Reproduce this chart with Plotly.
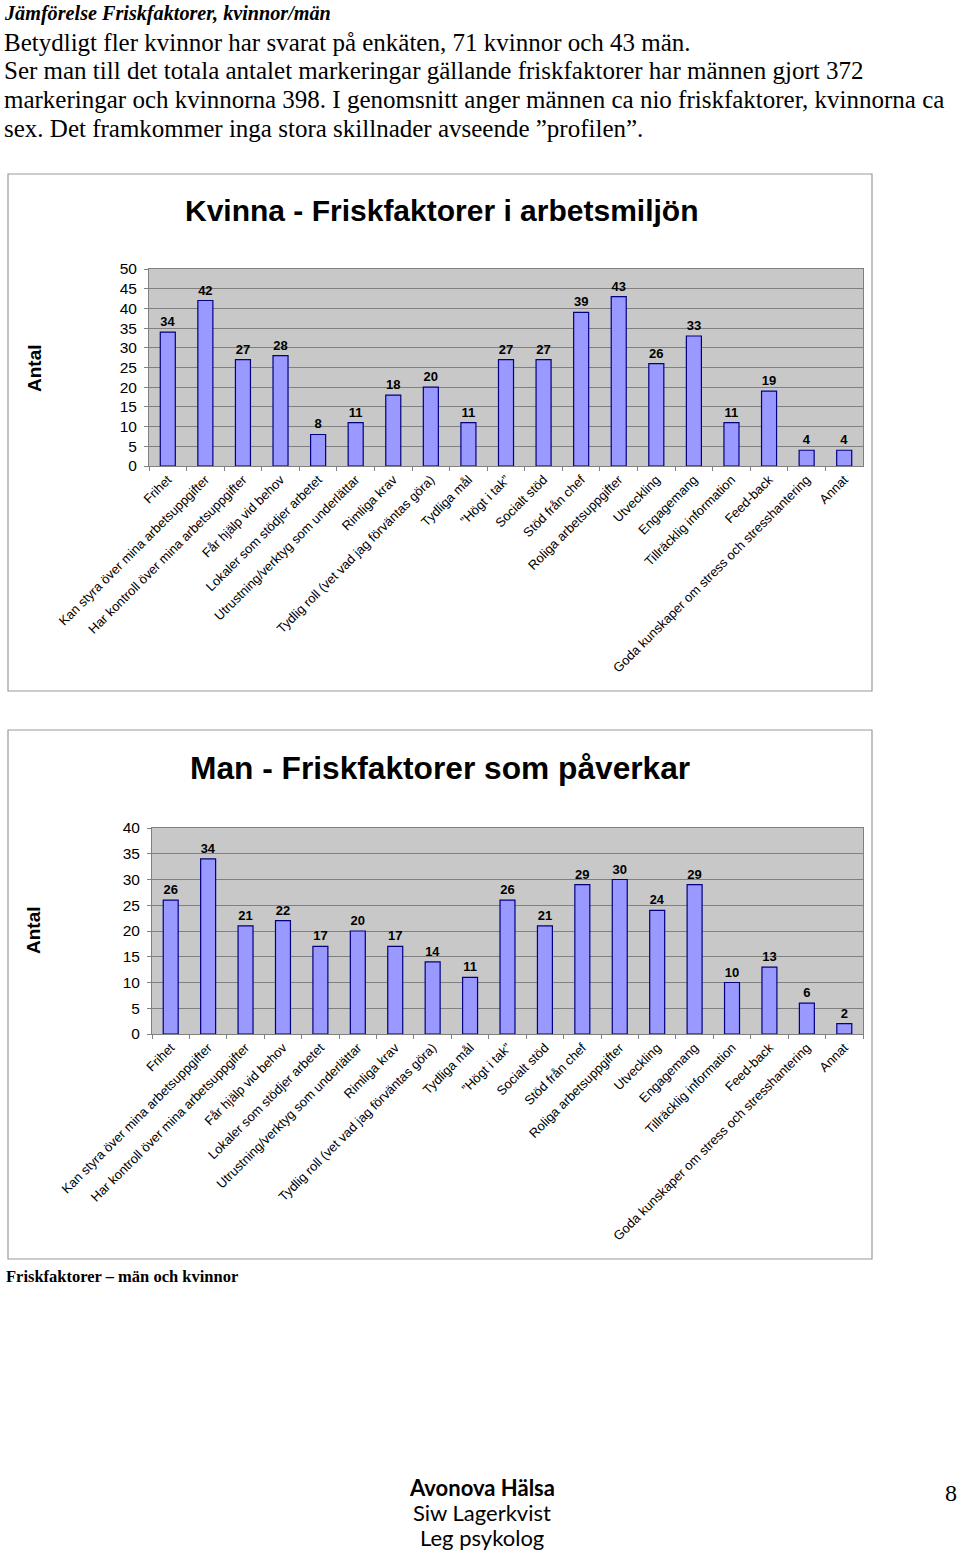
import plotly.graph_objects as go

categories = [
    "Frihet",
    "Kan styra över mina arbetsuppgifter",
    "Har kontroll över mina arbetsuppgifter",
    "Får hjälp vid behov",
    "Lokaler som stödjer arbetet",
    "Utrustning/verktyg som underlättar",
    "Rimliga krav",
    "Tydlig roll (vet vad jag förväntas göra)",
    "Tydliga mål",
    "\u201dHögt i tak\u201d",
    "Socialt stöd",
    "Stöd från chef",
    "Roliga arbetsuppgifter",
    "Utveckling",
    "Engagemang",
    "Tillräcklig information",
    "Feed-back",
    "Goda kunskaper om stress och stresshantering",
    "Annat",
]
kvinna_values = [34, 42, 27, 28, 8, 11, 18, 20, 11, 27, 27, 39, 43, 26, 33, 11, 19, 4, 4]
man_values = [26, 34, 21, 22, 17, 20, 17, 14, 11, 26, 21, 29, 30, 24, 29, 10, 13, 6, 2]

W, H = 960, 1551


def px(x):
    return x / W


def py(y):
    return 1 - y / H


BAR_FILL = "#9999FF"
BAR_LINE = "#000080"

fig = go.Figure()

for vals, xa, ya in [(kvinna_values, "x", "y"), (man_values, "x2", "y2")]:
    fig.add_trace(go.Bar(
        x=categories, y=vals, xaxis=xa, yaxis=ya,
        marker=dict(color=BAR_FILL, line=dict(color=BAR_LINE, width=1.2)),
        width=0.4, text=vals, textposition="outside", cliponaxis=False,
        textfont=dict(family="Liberation Sans, Arial", size=13, color="black"),
        texttemplate="<b>%{text}</b>", showlegend=False,
    ))

xcommon = dict(
    type="category", tickangle=-45, ticks="outside", tickson="boundaries",
    ticklen=4, tickcolor="#808080", showline=True, linecolor="#808080",
    tickfont=dict(family="Liberation Sans, Arial", size=13, color="black"),
    showgrid=False, mirror=True, fixedrange=True, automargin=False,
)
ycommon = dict(
    dtick=5, showgrid=True, gridcolor="#808080", gridwidth=1,
    ticks="outside", ticklen=4, tickcolor="#808080", showline=True,
    linecolor="#808080", mirror=True, zeroline=False, automargin=False,
    ticklabelstandoff=4,
    tickfont=dict(family="Liberation Sans, Arial", size=15.5, color="black"),
)

fig.update_layout(
    width=W, height=H,
    margin=dict(l=0, r=0, t=0, b=0, autoexpand=False),
    paper_bgcolor="white",
    plot_bgcolor="#C8C8C8",
    bargap=0.6,
    xaxis=dict(domain=[px(149), px(863)], anchor="y", **xcommon),
    yaxis=dict(domain=[py(466), py(269)], anchor="x", range=[0, 50], **ycommon),
    xaxis2=dict(domain=[px(152), px(863)], anchor="y2", **xcommon),
    yaxis2=dict(domain=[py(1034), py(828)], anchor="x2", range=[0, 40], **ycommon),
)

shapes = []
for (x0, y0, x1, y1) in [(8, 174, 872, 691), (8, 730, 872, 1259)]:
    shapes.append(dict(type="rect", xref="paper", yref="paper",
                       x0=px(x0), x1=px(x1), y0=py(y1), y1=py(y0),
                       line=dict(color="#999999", width=1.2), fillcolor="rgba(0,0,0,0)"))
fig.update_layout(shapes=shapes)

serif = "Liberation Serif, Times New Roman"
sans = "Liberation Sans, Arial"
ann = []


def add_text(text, x, y, size, family, xanchor="left", color="black", textangle=0):
    ann.append(dict(text=text, x=px(x), y=py(y), xref="paper", yref="paper",
                    xanchor=xanchor, yanchor="middle", showarrow=False,
                    textangle=textangle,
                    font=dict(family=family, size=size, color=color)))


add_text("<b><i>Jämförelse Friskfaktorer, kvinnor/män</i></b>", 2, 13, 20.2, serif)
body = [
    "Betydligt fler kvinnor har svarat på enkäten, 71 kvinnor och 43 män.",
    "Ser man till det totala antalet markeringar gällande friskfaktorer har männen gjort 372",
    "markeringar och kvinnorna 398. I genomsnitt anger männen ca nio friskfaktorer, kvinnorna ca",
    "sex. Det framkommer inga stora skillnader avseende \u201dprofilen\u201d.",
]
for i, line in enumerate(body):
    add_text(line, 2, 42 + i * 28.7, 25, serif)

add_text("<b>Kvinna - Friskfaktorer i arbetsmiljön</b>", 441, 211, 30, sans, xanchor="center")
add_text("<b>Man - Friskfaktorer som påverkar</b>", 440, 768, 31.7, sans, xanchor="center")
add_text("<b>Antal</b>", 34, 368, 19, sans, xanchor="center", textangle=-90)
add_text("<b>Antal</b>", 34, 930, 19, sans, xanchor="center", textangle=-90)

add_text("<b>Friskfaktorer \u2013 män och kvinnor</b>", 4, 1276, 16.5, serif)

add_text("<b>Avonova Hälsa</b>", 482, 1487, 22, "Lato", xanchor="center")
add_text("Siw Lagerkvist", 482, 1512, 22, "Lato", xanchor="center")
add_text("Leg psykolog", 482, 1537, 22, "Lato", xanchor="center")
add_text("8", 959, 1493, 24, serif, xanchor="right")

fig.update_layout(annotations=ann)

fig.write_html(
    "out.html",
    config={"displayModeBar": False},
    post_script="document.body.style.margin='0';document.body.style.overflow='hidden';",
)
